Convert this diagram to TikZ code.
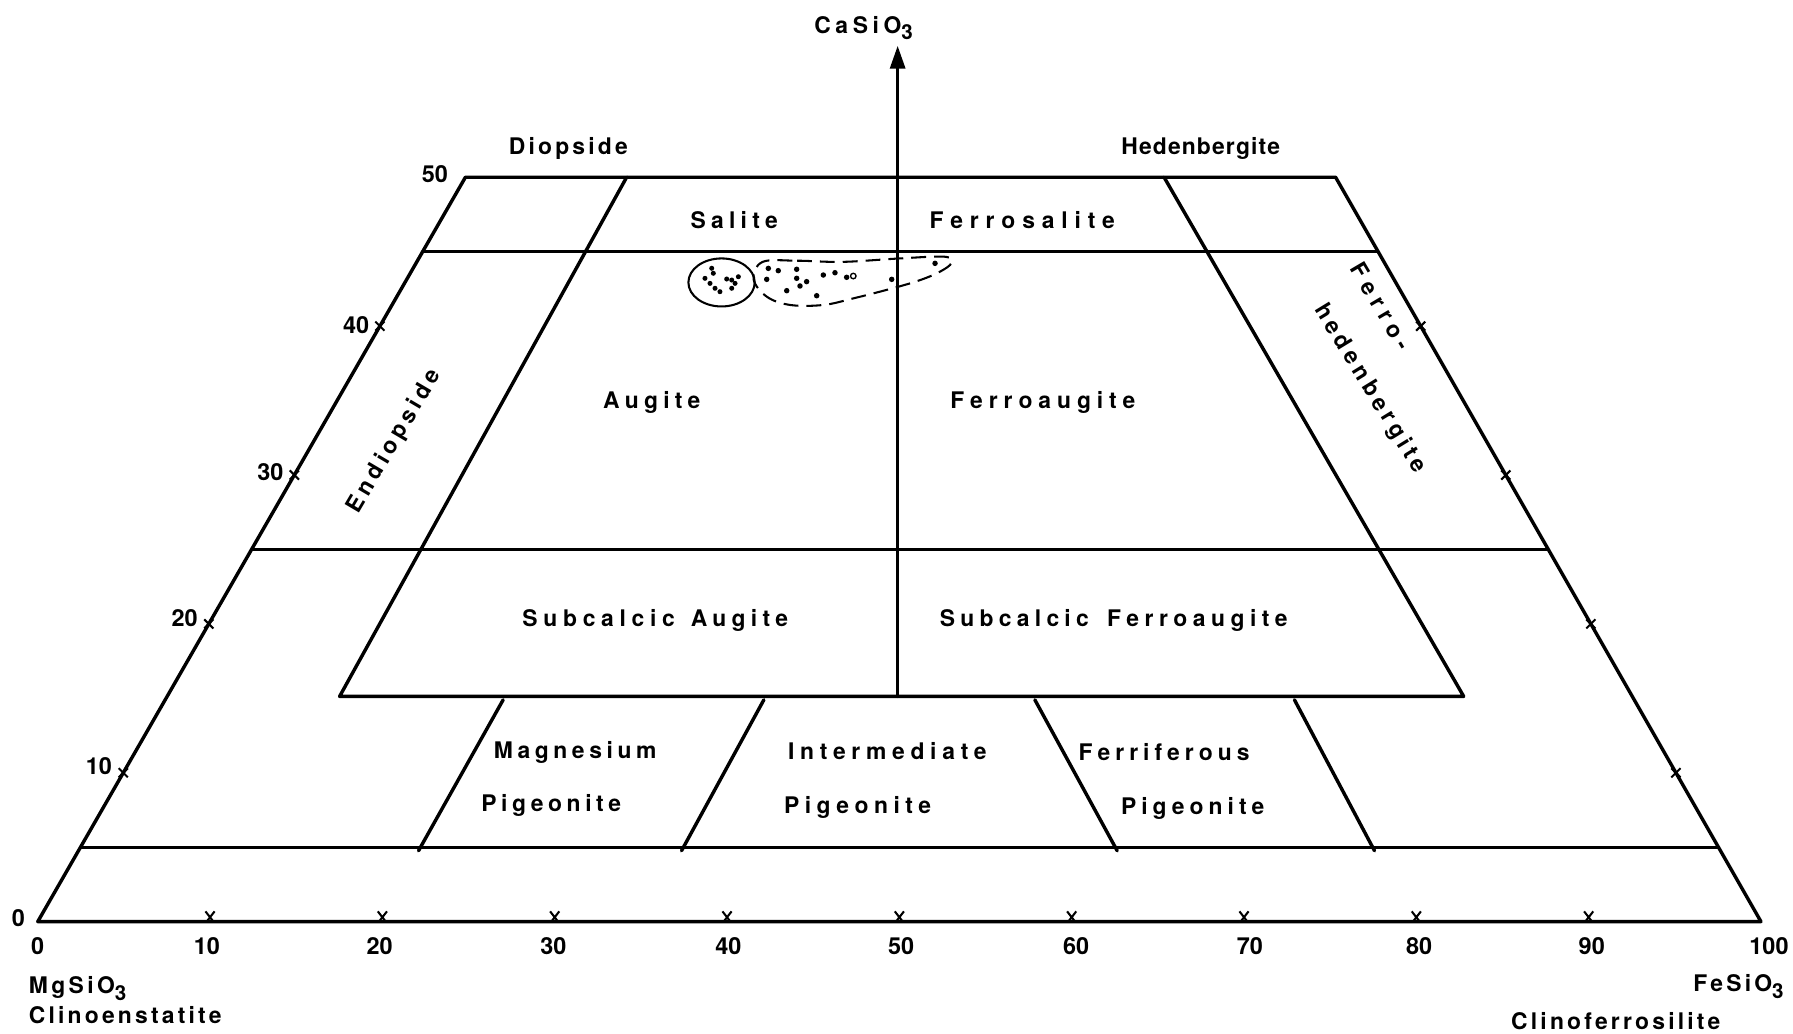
\documentclass[tikz,border=0pt]{standalone}
\usepackage{fontspec}
\setmainfont{TeX Gyre Heros}
\usetikzlibrary{arrows.meta,calc}
\newcommand\lsp[2]{{\addfontfeature{LetterSpace=#1}#2}}
\newcommand\subthree{\raisebox{-0.55ex}{\fontsize{18}{20}\selectfont 3}}
\begin{document}
\begin{tikzpicture}[x=1pt,y=-1pt,
  frame/.style={line width=3pt, line cap=round, line join=round},
  lab/.style={font=\fontsize{20}{24}\selectfont\bfseries, inner sep=0pt, anchor=base},
  numlab/.style={font=\fontsize{20.5}{24}\selectfont\bfseries, inner sep=0pt},
  tickmark/.style={line width=1.8pt},
  datadot/.style={fill=black},
  envelope/.style={line width=1.8pt, dash pattern=on 13pt off 7pt}]
\fill[white] (0,0) rectangle (1568,904);
\useasboundingbox (0,0) rectangle (1568,904);

% corners
\coordinate (O) at (33,806);
\coordinate (R) at (1540,806);
\coordinate (TL) at (407,155);
\coordinate (TR) at (1168,155);
% horizontal levels on edges
\coordinate (L45) at ($(O)!0.9!(TL)$);
\coordinate (R45) at ($(R)!0.9!(TR)$);
\coordinate (L25) at ($(O)!0.5!(TL)$);
\coordinate (R25) at ($(R)!0.5!(TR)$);
\coordinate (L05) at ($(O)!0.1!(TL)$);
\coordinate (R05) at ($(R)!0.1!(TR)$);
% inner diagonals
\coordinate (A1) at (548,155);
\coordinate (A2) at (297,609);
\coordinate (B1) at (1018,155);
\coordinate (B2) at (1280,609);
% pigeonite boundaries
\coordinate (P1a) at (440,612); \coordinate (P1b) at (366,744);
\coordinate (P2a) at (668,612); \coordinate (P2b) at (596,744);
\coordinate (P3a) at (905,612); \coordinate (P3b) at (977,744);
\coordinate (P4a) at (1132,612); \coordinate (P4b) at (1202,744);
% axis
\coordinate (C0) at (785,609);
\coordinate (C1) at (785,40);

% outline
\draw[frame] (O) -- (TL) -- (TR) -- (R) -- cycle;
\draw[frame] (L45) -- (R45);
\draw[frame] (L25) -- (R25);
\draw[frame] (L05) -- (R05);
\draw[frame] (A1) -- (A2) -- (B2) -- (B1);
\draw[frame] (P1a) -- (P1b);
\draw[frame] (P2a) -- (P2b);
\draw[frame] (P3a) -- (P3b);
\draw[frame] (P4a) -- (P4b);
\draw[frame, -{Triangle[length=20pt,width=13pt]}] (C0) -- (C1);

% tick marks on the base
\foreach \i in {1,...,9} {
  \coordinate (bt\i) at ($(O)!\i/10!(R)$);
  \draw[tickmark] ($(bt\i)+(-4,-9)$) -- ($(bt\i)+(3,0)$) ($(bt\i)+(4,-9)$) -- ($(bt\i)+(-3,0)$);
}
% tick marks on the sides
\foreach \i in {2,4,6,8} {
  \coordinate (lt\i) at ($(O)!\i/10!(TL)$);
  \coordinate (rt\i) at ($(R)!\i/10!(TR)$);
  \draw[tickmark] ($(lt\i)+(-4,-4)$) -- ($(lt\i)+(4,4)$) ($(lt\i)+(-4,4)$) -- ($(lt\i)+(4,-4)$);
  \draw[tickmark] ($(rt\i)+(-4,-4)$) -- ($(rt\i)+(4,4)$) ($(rt\i)+(-4,4)$) -- ($(rt\i)+(4,-4)$);
}

% base numbers
\foreach \v/\xx in {0/33,10/181,20/332,30/484,40/637,50/788,60/941,70/1093,80/1241,90/1392} {
  \node[numlab, anchor=base] (bn\v) at (\xx,835) {\v};
}
\node[numlab, anchor=base] (bn100) at (1547,835) {100};
% side numbers
\node[numlab, anchor=base east] (sn0) at (22,810) {0};
\node[numlab, anchor=base east] (sn10) at (98,677) {10};
\node[numlab, anchor=base east] (sn20) at (173,548) {20};
\node[numlab, anchor=base east] (sn30) at (248,420) {30};
\node[numlab, anchor=base east] (sn40) at (323,292) {40};
\node[numlab, anchor=base east] (sn50) at (392,160) {50};

% end-member labels
\node[lab, anchor=base west] (ca) at (712,29) {\lsp{20}{CaSiO}\subthree};
\node[lab, anchor=base west] (mg) at (25,869) {\lsp{15}{MgSiO}\subthree};
\node[lab, anchor=base west] (cen) at (25,895) {\lsp{14}{Clinoenstatite}};
\node[lab, anchor=base east] (fe) at (1560,867) {\lsp{14}{FeSiO}\subthree};
\node[lab] (cfs) at (1413,900) {\lsp{14}{Clinoferrosilite}};

% field labels
\node[lab] (diop) at (497,135) {\lsp{14}{Diopside}};
\node[lab] (hed) at (1050,135) {\lsp{5}{Hedenbergite}};
\node[lab] (sal) at (642,200) {\lsp{23}{Salite}};
\node[lab] (fsal) at (894,200) {\lsp{30}{Ferrosalite}};
\node[lab] (aug) at (570,357) {\lsp{23}{Augite}};
\node[lab] (faug) at (912,357) {\lsp{26}{Ferroaugite}};
\node[lab] (saug) at (573,548) {\lsp{25}{Subcalcic}\hspace{14pt}\lsp{23}{Augite}};
\node[lab] (sfaug) at (974,548) {\lsp{23}{Subcalcic}\hspace{16pt}\lsp{24}{Ferroaugite}};
\node[lab] (mgp1) at (503,663) {\lsp{20}{Magnesium}};
\node[lab] (mgp2) at (482,710) {\lsp{20}{Pigeonite}};
\node[lab] (ip1) at (776,664) {\lsp{25}{Intermediate}};
\node[lab] (ip2) at (750,711) {\lsp{24}{Pigeonite}};
\node[lab] (fp1) at (1018,665) {\lsp{22}{Ferriferous}};
\node[lab] (fp2) at (1043,712) {\lsp{22}{Pigeonite}};
\node[lab, anchor=center, rotate=59.5] (endi) at (345,386) {\lsp{19}{Endiopside}};
\node[lab, anchor=center, rotate=-59.5] (fh1) at (1208,268) {\lsp{27}{Ferro-}};
\node[lab, anchor=center, rotate=-58.5] (fh2) at (1198,340) {\lsp{20}{hedenbergite}};

% data: solid group
\draw[line width=1.8pt] (631,247) ellipse [x radius=29, y radius=21];
\foreach \p in {(622.4,234.6),(623.8,239),(616.5,243.4),(620.9,247.8),(625.3,252.1),(629.6,255.1),(635.5,244),(639.9,244.9),(645.7,242),(642.8,247.8),(639.9,252.1)}
  \fill[datadot] \p circle (2.2);
% data: dashed group
\draw[envelope] plot[smooth cycle, tension=0.6] coordinates {(667,229) (697,228) (737,229) (787,226) (826,224.5) (832,230) (822,237.6) (804.5,245) (781,252) (746,261) (720,266.7) (691,266.7) (670.5,259.4) (659,244)};
\foreach \p in {(671.9,234.7),(680.6,236.7),(670.5,244.3),(696.7,235.5),(696.7,243.4),(699.6,250.1),(705.4,246.3),(688,254.2),(714.2,258.6),(720,240.5),(730.2,238.5),(740.4,242.5),(779.8,244.3),(817.7,230.3)}
  \fill[datadot] \p circle (2.4);
\draw[line width=1.2pt] (746.2,241.4) circle (2.4);
\end{tikzpicture}
\end{document}
